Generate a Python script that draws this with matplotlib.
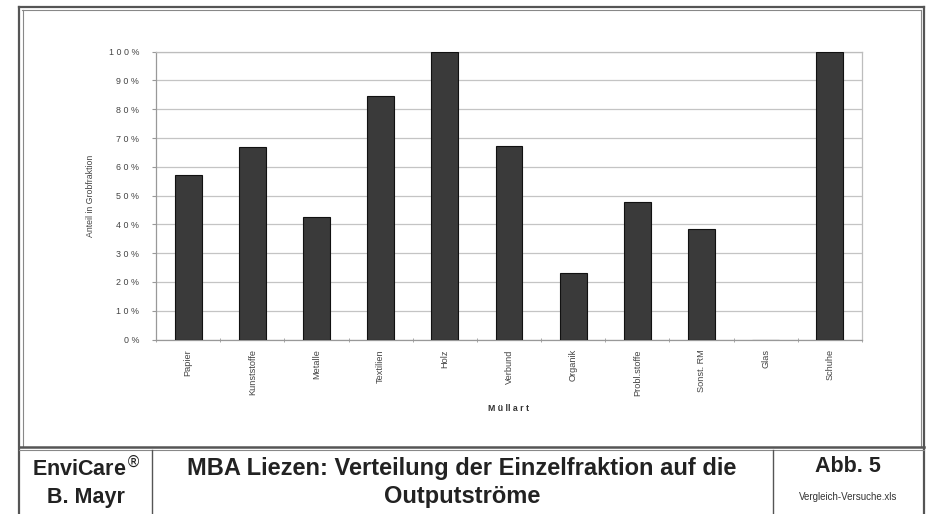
import matplotlib.pyplot as plt
from matplotlib.lines import Line2D
from matplotlib.ticker import FixedLocator

# data
kategorien = ["Papier", "Kunststoffe", "Metalle", "Textilien", "Holz", "Verbund",
              "Organik", "Probl.stoffe", "Sonst. RM", "Glas", "Schuhe"]
anteil = [0.57, 0.67, 0.425, 0.845, 1.0, 0.672, 0.231, 0.477, 0.385, 0.0, 1.0]
yticks = [i / 10 for i in range(11)]
ytick_labels = [" ".join(str(i * 10)) + " %" for i in range(11)]

plt.rcParams['font.family'] = ['Liberation Sans', 'DejaVu Sans']

W, H = 935, 514
fig = plt.figure(figsize=(W / 100, H / 100), dpi=100)


def fx(px):
    return px / W


def fy(py):
    return 1 - py / H


# chart area
ax = fig.add_axes([fx(156), fy(339.5), fx(862) - fx(156), fy(51.7) - fy(339.5)])
x = range(len(kategorien))
ax.bar(x, anteil, width=0.42, color="#3a3a3a", edgecolor="#111111", linewidth=0.8, zorder=3)
ax.set_xlim(-0.5, len(kategorien) - 0.5)
ax.set_ylim(0, 1)
ax.set_yticks(yticks)
ax.set_yticklabels(ytick_labels, fontsize=6.4, color="#444444")
ax.yaxis.grid(True, color="#c4c4c4", linewidth=0.9, zorder=0)
ax.set_xticks(list(x))
ax.set_xticklabels(kategorien, rotation=90, fontsize=6.6, color="#444444")
ax.tick_params(axis="x", length=0, pad=7)
ax.tick_params(axis="y", length=3, color="#999999", pad=9)
ax.xaxis.set_minor_locator(FixedLocator([i - 0.5 for i in range(len(kategorien) + 1)]))
ax.tick_params(axis="x", which="minor", length=3, color="#999999", direction="inout")
for s in ax.spines.values():
    s.set_color("#bdbdbd")
    s.set_linewidth(0.9)
ax.spines["left"].set_color("#999999")
ax.spines["bottom"].set_color("#999999")
ax.set_ylabel("Anteil in Grobfraktion", fontsize=6.3, color="#444444", labelpad=10)
ax.set_xlabel("M ü ll a r t", fontsize=6.3, color="#333333", fontweight="bold", labelpad=6)

# document frame (double lines)
gray = "#555555"
def hline(y, x0, x1, lw=1.2, c=gray):
    fig.add_artist(Line2D([fx(x0), fx(x1)], [fy(y), fy(y)], color=c, lw=lw))


def vline(xp, y0, y1, lw=1.2, c=gray):
    fig.add_artist(Line2D([fx(xp), fx(xp)], [fy(y0), fy(y1)], color=c, lw=lw))


hline(6.5, 19, 924, lw=1.6)
hline(10, 22, 921, lw=0.8, c="#888888")
vline(19, 6.5, 514, lw=1.6)
vline(22.5, 10, 447, lw=0.8, c="#888888")
vline(924, 6.5, 514, lw=1.6)
vline(921, 10, 447, lw=0.8, c="#888888")
hline(446.5, 19, 924, lw=1.8)
hline(449.5, 19, 924, lw=0.8, c="#888888")
vline(152, 449.5, 514, lw=1.0)
vline(773, 449.5, 514, lw=1.0)

# footer texts
narrow = ['Liberation Sans Narrow', 'Liberation Sans', 'DejaVu Sans']
fig.text(fx(86), fy(468), "EnviCare$^{®}$", ha="center", va="center", fontsize=15.5,
         fontweight="bold", family=narrow, color="#222222")
fig.text(fx(86), fy(497), "B. Mayr", ha="center", va="center", fontsize=15.5,
         fontweight="bold", family=narrow, color="#222222")
fig.text(fx(462), fy(468), "MBA Liezen: Verteilung der Einzelfraktion auf die",
         ha="center", va="center", fontsize=17, fontweight="bold", family=narrow, color="#222222")
fig.text(fx(462), fy(497), "Outputströme", ha="center", va="center", fontsize=17,
         fontweight="bold", family=narrow, color="#222222")
fig.text(fx(848), fy(467), "Abb. 5", ha="center", va="center", fontsize=15.5,
         fontweight="bold", family=narrow, color="#222222")
fig.text(fx(848), fy(497), "Vergleich-Versuche.xls", ha="center", va="center", fontsize=7,
         family=narrow, color="#333333")

fig.savefig("out.png", dpi=100)
